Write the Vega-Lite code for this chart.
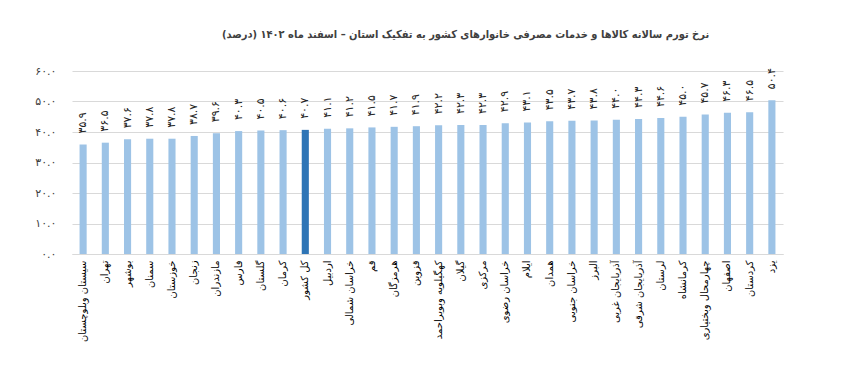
{
  "$schema": "https://vega.github.io/schema/vega-lite/v6.json",
  "width": 711,
  "height": 183,
  "autosize": {"type": "none"},
  "padding": {"left": 72, "top": 71, "right": 63, "bottom": 131},
  "background": "white",
  "config": {
    "font": "DejaVu Sans",
    "view": {"stroke": null},
    "locale": {
      "number": {
        "decimal": ".",
        "thousands": ",",
        "grouping": [3],
        "currency": ["", ""],
        "numerals": ["۰", "۱", "۲", "۳", "۴", "۵", "۶", "۷", "۸", "۹"]
      }
    }
  },
  "title": {
    "text": "‫نرخ تورم سالانه کالاها و خدمات مصرفی خانوارهای کشور به تفکیک استان – اسفند ماه ۱۴۰۲ (درصد)‬",
    "font": "DejaVu Sans Condensed, DejaVu Sans",
    "fontSize": 11,
    "fontWeight": "bold",
    "color": "#404040",
    "anchor": "middle",
    "dx": 38,
    "offset": 25
  },
  "data": {
    "values": [
      {"province": "سیستان وبلوچستان", "value": 35.9},
      {"province": "تهران", "value": 36.5},
      {"province": "بوشهر", "value": 37.6},
      {"province": "سمنان", "value": 37.8},
      {"province": "خوزستان", "value": 37.8},
      {"province": "زنجان", "value": 38.7},
      {"province": "مازندران", "value": 39.6},
      {"province": "فارس", "value": 40.3},
      {"province": "گلستان", "value": 40.5},
      {"province": "کرمان", "value": 40.6},
      {"province": "کل کشور", "value": 40.7},
      {"province": "اردبیل", "value": 41.1},
      {"province": "خراسان شمالی", "value": 41.2},
      {"province": "قم", "value": 41.5},
      {"province": "هرمزگان", "value": 41.7},
      {"province": "قزوین", "value": 41.9},
      {"province": "کهگیلویه وبویراحمد", "value": 42.2},
      {"province": "گیلان", "value": 42.3},
      {"province": "مرکزی", "value": 42.3},
      {"province": "خراسان رضوی", "value": 42.9},
      {"province": "ایلام", "value": 43.1},
      {"province": "همدان", "value": 43.5},
      {"province": "خراسان جنوبی", "value": 43.7},
      {"province": "البرز", "value": 43.8},
      {"province": "آذربایجان غربی", "value": 44.0},
      {"province": "آذربایجان شرقی", "value": 44.3},
      {"province": "لرستان", "value": 44.6},
      {"province": "کرمانشاه", "value": 45.0},
      {"province": "چهارمحال وبختیاری", "value": 45.7},
      {"province": "اصفهان", "value": 46.3},
      {"province": "کردستان", "value": 46.5},
      {"province": "یزد", "value": 50.4}
    ]
  },
  "encoding": {
    "x": {
      "field": "province",
      "type": "nominal",
      "sort": null,
      "scale": {"paddingInner": 0.68, "paddingOuter": 0.34},
      "axis": {
        "title": null,
        "labelAngle": -90,
        "labelFontSize": 10,
        "labelColor": "#000000",
        "labelPadding": 6,
        "ticks": false,
        "domainColor": "#d9d9d9",
        "labelLimit": 200
      }
    },
    "y": {
      "field": "value",
      "type": "quantitative",
      "scale": {"domain": [0, 60]},
      "axis": {
        "title": null,
        "values": [0, 10, 20, 30, 40, 50, 60],
        "format": ".1f",
        "labelFontSize": 11,
        "labelColor": "#404040",
        "labelPadding": 16,
        "ticks": false,
        "domain": false,
        "gridColor": "#d9d9d9"
      }
    }
  },
  "layer": [
    {
      "mark": {"type": "bar"},
      "encoding": {
        "color": {
          "condition": {"test": "datum.province === 'کل کشور'", "value": "#2E75B6"},
          "value": "#9DC3E6"
        }
      }
    },
    {
      "mark": {"type": "text", "angle": 270, "align": "left", "baseline": "middle", "dx": 11, "fontSize": 11, "color": "#262626"},
      "encoding": {
        "text": {"field": "value", "type": "quantitative", "format": ".1f"}
      }
    }
  ]
}
